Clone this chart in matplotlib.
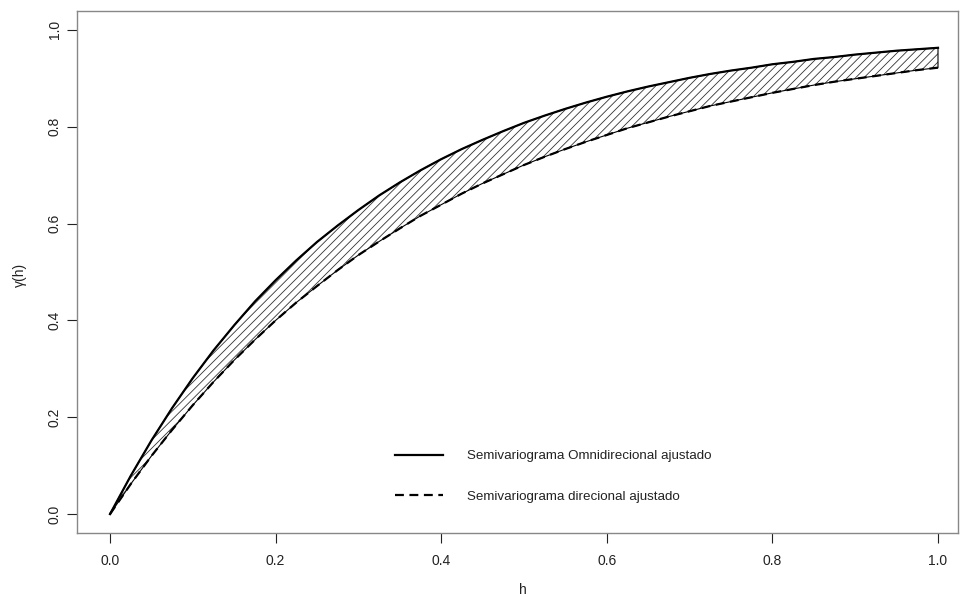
import matplotlib
matplotlib.use("Agg")
import matplotlib.pyplot as plt

h = [0.0, 0.025, 0.05, 0.075, 0.1, 0.125, 0.15, 0.175, 0.2, 0.225, 0.25, 0.275, 0.3, 0.325,
     0.35, 0.375, 0.4, 0.425, 0.45, 0.475, 0.5, 0.525, 0.55, 0.575, 0.6, 0.625, 0.65, 0.675,
     0.7, 0.725, 0.75, 0.775, 0.8, 0.825, 0.85, 0.875, 0.9, 0.925, 0.95, 0.975, 1.0]
gamma_omni = [0.0, 0.079, 0.152, 0.219, 0.281, 0.338, 0.390, 0.439, 0.483, 0.524, 0.562, 0.596,
              0.628, 0.658, 0.685, 0.710, 0.733, 0.754, 0.773, 0.791, 0.808, 0.823, 0.837, 0.850,
              0.862, 0.873, 0.883, 0.892, 0.901, 0.909, 0.916, 0.922, 0.929, 0.934, 0.940, 0.944,
              0.949, 0.953, 0.957, 0.960, 0.963]
gamma_dir = [0.0, 0.062, 0.120, 0.174, 0.225, 0.273, 0.318, 0.360, 0.400, 0.437, 0.471, 0.504,
             0.535, 0.563, 0.590, 0.616, 0.639, 0.662, 0.683, 0.702, 0.721, 0.738, 0.754, 0.769,
             0.783, 0.797, 0.809, 0.821, 0.832, 0.843, 0.852, 0.861, 0.870, 0.878, 0.886, 0.893,
             0.899, 0.905, 0.911, 0.917, 0.922]
xticks = [0.0, 0.2, 0.4, 0.6, 0.8, 1.0]
yticks = [0.0, 0.2, 0.4, 0.6, 0.8, 1.0]
labels = ["Semivariograma Omnidirecional ajustado", "Semivariograma direcional ajustado"]

plt.rcParams['font.family'] = ['Liberation Sans', 'DejaVu Sans']
plt.rcParams['hatch.linewidth'] = 0.6
plt.rcParams['hatch.color'] = '#333333'

W, H = 961, 597
fig = plt.figure(figsize=(W / 100, H / 100), dpi=100)
ax = fig.add_axes([77 / W, (H - 533) / H, (958 - 77) / W, (533 - 11) / H])

ax.fill_between(h, gamma_dir, gamma_omni, facecolor='none', edgecolor='#333333',
                hatch='////', linewidth=0.0)
# polygon border
poly_x = h + h[::-1]
poly_y = gamma_omni + gamma_dir[::-1]
ax.plot(poly_x + [poly_x[0]], poly_y + [poly_y[0]], color='black', lw=0.8)
ax.plot(h, gamma_omni, color='black', lw=1.6, label=labels[0])
ax.plot(h, gamma_dir, color='black', lw=1.6, dashes=(4.0, 2.5), label=labels[1])

ax.set_xlim((77 - 110) / 828, (958 - 110) / 828)
ax.set_ylim(-0.039, 1.039)
ax.set_xticks(xticks)
ax.set_xticklabels([f"{v:.1f}" for v in xticks])
ax.set_yticks(yticks)
ax.set_yticklabels([f"{v:.1f}" for v in yticks], rotation=90, va='center')
ax.tick_params(direction='out', length=7, width=0.8, color='#222222',
               labelsize=10, labelcolor='#222222')
ax.tick_params(axis='x', pad=8)
ax.tick_params(axis='y', pad=4)
for s in ax.spines.values():
    s.set_color('#888888')
    s.set_linewidth(1.0)

fig.text(523 / W, 1 - 590 / H, "h", ha='center', va='center', fontsize=10, color='#222222')
fig.text(20 / W, 1 - 275 / H, "γ(h)", ha='center', va='center', fontsize=10,
         color='#222222', rotation=90)

leg = ax.legend(loc='upper left', bbox_to_anchor=(395 / W, 1 - 450 / H),
                bbox_transform=fig.transFigure, frameon=False, fontsize=9.6,
                handlelength=3.6, handletextpad=1.8, labelspacing=2.1,
                borderpad=0, borderaxespad=0, labelcolor='#222222')

fig.savefig("out.png", dpi=100)
